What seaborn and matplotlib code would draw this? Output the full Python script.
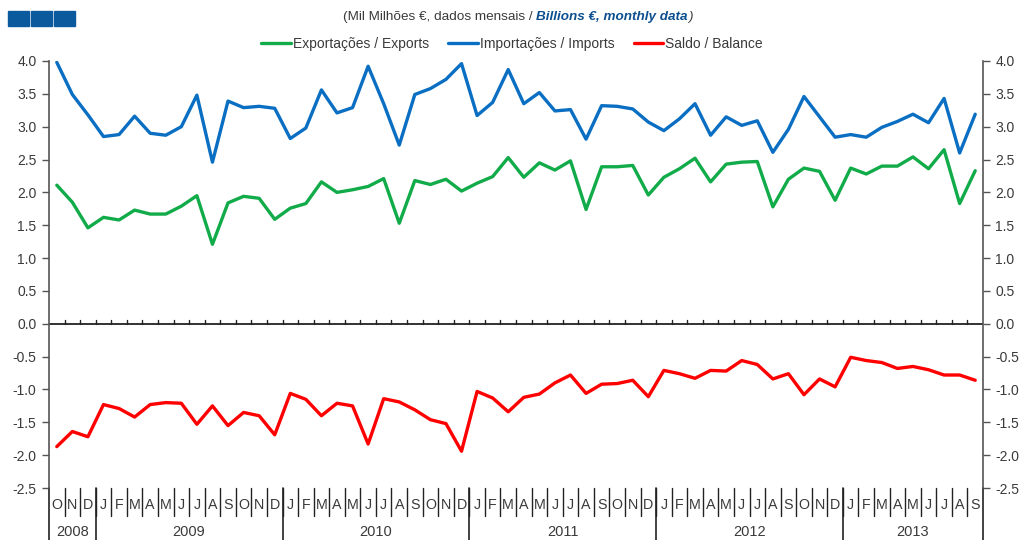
import numpy as np
import pandas as pd
import matplotlib
matplotlib.use("Agg")
import matplotlib.pyplot as plt
import matplotlib.transforms as mtransforms
from matplotlib.patches import Rectangle
import seaborn as sns

# ---------------- data ----------------
month_letters = ["O", "N", "D",
                 "J", "F", "M", "A", "M", "J", "J", "A", "S", "O", "N", "D",
                 "J", "F", "M", "A", "M", "J", "J", "A", "S", "O", "N", "D",
                 "J", "F", "M", "A", "M", "J", "J", "A", "S", "O", "N", "D",
                 "J", "F", "M", "A", "M", "J", "J", "A", "S", "O", "N", "D",
                 "J", "F", "M", "A", "M", "J", "J", "A", "S"]
years = ["2008", "2009", "2010", "2011", "2012", "2013"]
year_counts = [3, 12, 12, 12, 12, 9]

exports = [2.11, 1.85, 1.46, 1.62, 1.58, 1.73, 1.67, 1.67, 1.79, 1.95, 1.21, 1.84,
           1.94, 1.91, 1.59, 1.76, 1.83, 2.16, 2.00, 2.04, 2.09, 2.21, 1.53, 2.18,
           2.12, 2.20, 2.02, 2.14, 2.24, 2.53, 2.23, 2.45, 2.34, 2.48, 1.74, 2.39,
           2.39, 2.41, 1.96, 2.23, 2.36, 2.52, 2.16, 2.43, 2.46, 2.47, 1.78, 2.20,
           2.37, 2.32, 1.88, 2.37, 2.28, 2.40, 2.40, 2.54, 2.36, 2.65, 1.83, 2.33]
imports = [3.98, 3.49, 3.18, 2.85, 2.88, 3.16, 2.90, 2.87, 3.00, 3.48, 2.46, 3.39,
           3.29, 3.31, 3.28, 2.82, 2.98, 3.56, 3.21, 3.29, 3.92, 3.35, 2.72, 3.49,
           3.58, 3.72, 3.96, 3.17, 3.37, 3.87, 3.35, 3.52, 3.24, 3.26, 2.81, 3.32,
           3.31, 3.27, 3.07, 2.94, 3.12, 3.35, 2.87, 3.15, 3.02, 3.09, 2.61, 2.96,
           3.46, 3.15, 2.84, 2.88, 2.84, 2.99, 3.08, 3.19, 3.06, 3.43, 2.60, 3.19]
balance = [-1.87, -1.64, -1.72, -1.23, -1.29, -1.42, -1.23, -1.20, -1.21, -1.53, -1.25, -1.55,
           -1.35, -1.40, -1.69, -1.06, -1.15, -1.40, -1.21, -1.25, -1.83, -1.14, -1.19, -1.31,
           -1.46, -1.52, -1.94, -1.03, -1.13, -1.34, -1.12, -1.07, -0.90, -0.78, -1.06, -0.92,
           -0.91, -0.86, -1.11, -0.71, -0.76, -0.83, -0.71, -0.72, -0.56, -0.62, -0.84, -0.76,
           -1.08, -0.84, -0.96, -0.51, -0.56, -0.59, -0.68, -0.65, -0.70, -0.78, -0.78, -0.86]

series_names = ["Exportações / Exports", "Importações / Imports", "Saldo / Balance"]
series_colors = ["#12AB4A", "#0A6FC2", "#FF0000"]
y_ticks = [-2.5, -2.0, -1.5, -1.0, -0.5, 0.0, 0.5, 1.0, 1.5, 2.0, 2.5, 3.0, 3.5, 4.0]

n = len(month_letters)
idx = np.arange(n)
df = pd.DataFrame({
    "month": np.concatenate([idx, idx, idx]),
    "value": np.concatenate([exports, imports, balance]),
    "series": np.repeat(series_names, n),
})

# ---------------- style ----------------
sns.set_style("white")
plt.rcParams["font.family"] = ["Liberation Sans", "DejaVu Sans"]
txt_col = "#3a3a3a"
ax_col = "#555555"

fig = plt.figure(figsize=(10.24, 5.4), dpi=100)
L, R, T, B = 49 / 1024, 983 / 1024, 61 / 540, 488 / 540
ax = fig.add_axes([L, 1 - B, R - L, B - T])

sns.lineplot(data=df, x="month", y="value", hue="series",
             palette=dict(zip(series_names, series_colors)),
             linewidth=2.4, ax=ax, legend=False)

ax.set_xlim(-0.5, n - 0.5)
ax.set_ylim(-2.5, 4.0)
ax.set_xlabel("")
ax.set_ylabel("")
ax.set_xticks([])
ax.set_yticks(y_ticks)
ax.set_yticklabels([f"{v:.1f}" for v in y_ticks])
ax.tick_params(axis="y", which="both", left=True, right=True, labelleft=True,
               labelright=True, direction="out", length=5, width=1,
               color=ax_col, labelcolor=txt_col, labelsize=10, pad=4)
for s in ["top", "bottom"]:
    ax.spines[s].set_visible(False)
for s in ["left", "right"]:
    ax.spines[s].set_color(ax_col)
    ax.spines[s].set_linewidth(1.2)

# zero line with upward ticks at month boundaries
ax.axhline(0, color="#222222", lw=1.3, zorder=1)
tick_h = 4 / 427 * 6.5
for b in np.arange(0.5, n - 0.5, 1):
    ax.plot([b, b], [0, tick_h], color="#222222", lw=1, zorder=1)

# month / year axis below
trans = mtransforms.blended_transform_factory(ax.transData, ax.transAxes)
ax_h = 427.0
m_y = -(505 - 488) / ax_h
m_sep = -(516 - 488) / ax_h
y_y = -(532 - 488) / ax_h
y_sep = -(540 - 488) / ax_h
for i, m in enumerate(month_letters):
    ax.text(i, m_y, m, transform=trans, ha="center", va="center",
            fontsize=10.3, color=txt_col, clip_on=False)
for b in np.arange(0.5, n - 0.5, 1):
    ax.plot([b, b], [0, m_sep], transform=trans, color="#222222", lw=1, clip_on=False)
start = 0
bounds = [-0.5]
for yr, cnt in zip(years, year_counts):
    ax.text(start + (cnt - 1) / 2, y_y, yr, transform=trans, ha="center", va="center",
            fontsize=10.5, color=txt_col, clip_on=False)
    start += cnt
    bounds.append(start - 0.5)
for b in bounds:
    ax.plot([b, b], [0, y_sep], transform=trans, color="#222222", lw=1.2, clip_on=False)

# legend
handles = [plt.Line2D([], [], color=c, lw=2.4) for c in series_colors]
fig.legend(handles, series_names, loc="center", bbox_to_anchor=(0.5, 1 - 44 / 540),
           ncol=3, frameon=False, fontsize=10, handlelength=2.15, handletextpad=0.1,
           columnspacing=1.4, labelcolor=txt_col)

# title with mixed styles
fig.canvas.draw()
renderer = fig.canvas.get_renderer()
x0 = 343 / 1024
ty = 1 - 17 / 540
parts = [("(Mil Milhões €, dados mensais / ", dict(color=txt_col)),
         ("Billions €, monthly data", dict(color="#0D4F8F", fontweight="bold", style="italic")),
         (")", dict(color=txt_col, style="italic"))]
x = x0
for s, kw in parts:
    t = fig.text(x, ty, s, ha="left", va="center", fontsize=9.7, **kw)
    bb = t.get_window_extent(renderer)
    x = bb.x1 / fig.bbox.width

# decorative squares top-left
for xs in [8, 31, 54]:
    fig.patches.append(Rectangle((xs / 1024, 1 - 26 / 540), 21 / 1024, 15 / 540,
                                 transform=fig.transFigure, color="#0B5A9E"))

fig.savefig("out.png", dpi=100)
